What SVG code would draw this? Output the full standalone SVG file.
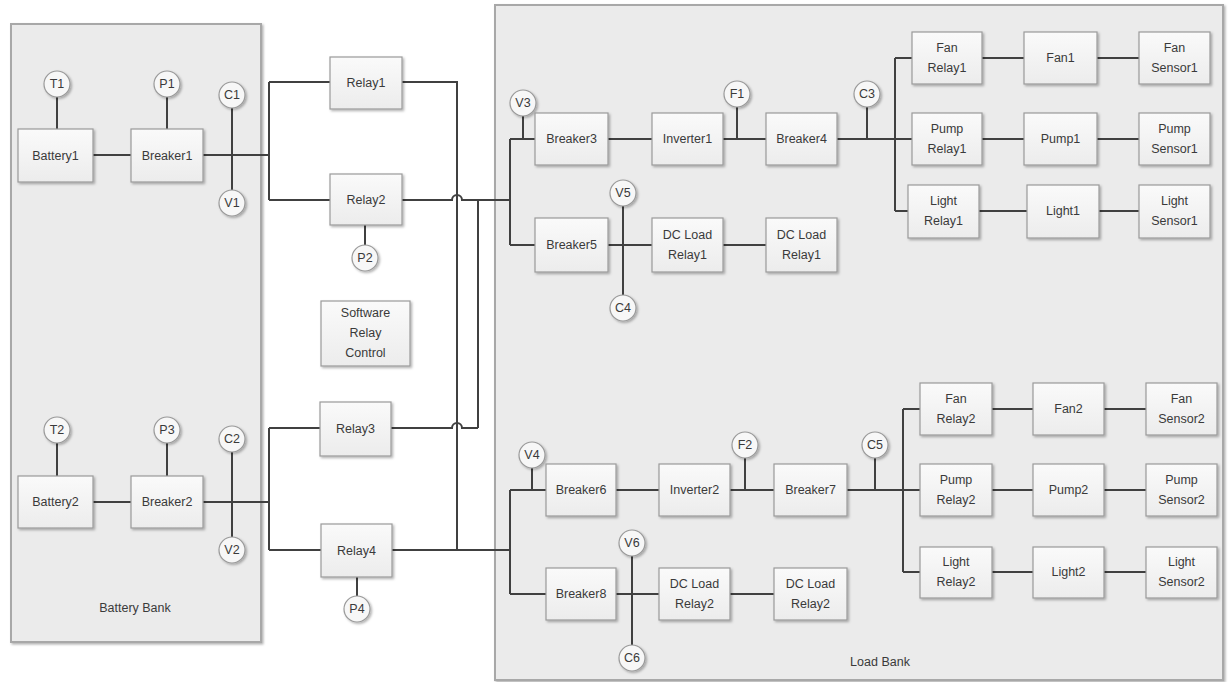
<svg xmlns="http://www.w3.org/2000/svg" width="1228" height="682" viewBox="0 0 1228 682">
<defs>
<linearGradient id="boxg" x1="0" y1="0" x2="0" y2="1">
<stop offset="0" stop-color="#fafafa"/>
<stop offset="1" stop-color="#ececec"/>
</linearGradient>
<filter id="sh" x="-20%" y="-20%" width="140%" height="140%">
<feDropShadow dx="1.5" dy="1.5" stdDeviation="1" flood-color="#000" flood-opacity="0.3"/>
</filter>
</defs>
<style>
.bank{fill:#ebebeb;stroke:#a8a8a8;stroke-width:2;filter:url(#sh)}
.box{fill:url(#boxg);stroke:#9a9a9a;stroke-width:1.2;filter:url(#sh)}
.cir{fill:#f7f7f7;stroke:#9a9a9a;stroke-width:1.2;filter:url(#sh)}
.t{font-family:"Liberation Sans",Arial,sans-serif;font-size:12.5px;fill:#3a3a3a;text-anchor:middle;dominant-baseline:central}
.c{stroke:#404040;stroke-width:2;fill:none}
</style>
<rect fill="#ffffff" x="0" y="0" width="1228" height="682"/>
<g id="battery-bank"><rect class="bank" x="11" y="24" width="250" height="618"/><text class="t" x="135" y="608">Battery Bank</text></g>
<g id="load-bank"><rect class="bank" x="495" y="5" width="728" height="675"/><text class="t" x="880" y="662">Load Bank</text></g>
<g id="connectors">
<path class="c" d="M57 97V129M167 97V129M93 155H131M203 155H269M232 108V190M269 82V200M269 82H330M269 200H330"/>
<path class="c" d="M402 82H457V550M402 200H452A5 5 0 0 1 462 200H510M478 200V428M365 225V245"/>
<path class="c" d="M510 139V245M510 139H535M510 245H535M523 116V139M608 139H652M723 139H766M737 107V139M867 107V139M837 139H912"/>
<path class="c" d="M895 58V211M895 58H912M895 211H908M982 58H1024M1097 58H1139M982 139H1024M1097 139H1139M979 211H1027M1099 211H1139"/>
<path class="c" d="M608 245H652M623 206V295M723 245H766"/>
<path class="c" d="M57 443V476M167 443V476M93 502H131M203 502H269M232 452V537M269 428V550M269 428H320M269 550H321"/>
<path class="c" d="M391 428H452A5 5 0 0 1 462 428H478M392 550H510M357 577V596"/>
<path class="c" d="M510 490V594M510 490H546M510 594H546M532 468V490M616 490H659M730 490H774M745 458V490M875 458V490M847 490H920"/>
<path class="c" d="M903 409V572M903 409H920M903 572H920M992 409H1033M1104 409H1146M992 490H1033M1104 490H1146M992 572H1033M1104 572H1146"/>
<path class="c" d="M616 594H659M632 556V645M730 594H774"/>
</g>
<g id="T1"><circle class="cir" cx="57" cy="84" r="13"/><text class="t" x="57" y="84">T1</text></g>
<g id="P1"><circle class="cir" cx="167" cy="84" r="13"/><text class="t" x="167" y="84">P1</text></g>
<g id="C1"><circle class="cir" cx="232" cy="95" r="13"/><text class="t" x="232" y="95">C1</text></g>
<g id="V1"><circle class="cir" cx="232" cy="203" r="13"/><text class="t" x="232" y="203">V1</text></g>
<g id="Battery1"><rect class="box" x="18" y="129" width="75" height="53"/><text class="t" x="55.5" y="155.5">Battery1</text></g>
<g id="Breaker1"><rect class="box" x="131" y="129" width="72" height="53"/><text class="t" x="167" y="155.5">Breaker1</text></g>
<g id="Relay1"><rect class="box" x="330" y="57" width="72" height="52"/><text class="t" x="366" y="83">Relay1</text></g>
<g id="Relay2"><rect class="box" x="330" y="174" width="72" height="51"/><text class="t" x="366" y="200">Relay2</text></g>
<g id="P2"><circle class="cir" cx="365" cy="258" r="13"/><text class="t" x="365" y="258">P2</text></g>
<g id="SoftwareRelayControl"><rect class="box" x="321" y="301" width="89" height="65"/><text class="t" x="365.5" y="313">Software</text><text class="t" x="365.5" y="333">Relay</text><text class="t" x="365.5" y="353">Control</text></g>
<g id="T2"><circle class="cir" cx="57" cy="430" r="13"/><text class="t" x="57" y="430">T2</text></g>
<g id="P3"><circle class="cir" cx="167" cy="430" r="13"/><text class="t" x="167" y="430">P3</text></g>
<g id="C2"><circle class="cir" cx="232" cy="439" r="13"/><text class="t" x="232" y="439">C2</text></g>
<g id="V2"><circle class="cir" cx="232" cy="550" r="13"/><text class="t" x="232" y="550">V2</text></g>
<g id="Battery2"><rect class="box" x="18" y="476" width="75" height="52"/><text class="t" x="55.5" y="502">Battery2</text></g>
<g id="Breaker2"><rect class="box" x="131" y="476" width="72" height="52"/><text class="t" x="167" y="502">Breaker2</text></g>
<g id="Relay3"><rect class="box" x="320" y="402" width="71" height="54"/><text class="t" x="355.5" y="429">Relay3</text></g>
<g id="Relay4"><rect class="box" x="321" y="524" width="71" height="53"/><text class="t" x="356.5" y="550.5">Relay4</text></g>
<g id="P4"><circle class="cir" cx="357" cy="609" r="13"/><text class="t" x="357" y="609">P4</text></g>
<g id="V3"><circle class="cir" cx="523" cy="103" r="13"/><text class="t" x="523" y="103">V3</text></g>
<g id="Breaker3"><rect class="box" x="535" y="113" width="73" height="52"/><text class="t" x="571.5" y="139">Breaker3</text></g>
<g id="Inverter1"><rect class="box" x="652" y="113" width="71" height="52"/><text class="t" x="687.5" y="139">Inverter1</text></g>
<g id="F1"><circle class="cir" cx="737" cy="94" r="13"/><text class="t" x="737" y="94">F1</text></g>
<g id="Breaker4"><rect class="box" x="766" y="113" width="71" height="52"/><text class="t" x="801.5" y="139">Breaker4</text></g>
<g id="C3"><circle class="cir" cx="867" cy="94" r="13"/><text class="t" x="867" y="94">C3</text></g>
<g id="V5"><circle class="cir" cx="623" cy="193" r="13"/><text class="t" x="623" y="193">V5</text></g>
<g id="C4"><circle class="cir" cx="623" cy="308" r="13"/><text class="t" x="623" y="308">C4</text></g>
<g id="Breaker5"><rect class="box" x="535" y="218" width="73" height="54"/><text class="t" x="571.5" y="245">Breaker5</text></g>
<g id="DCLoadRelay1a"><rect class="box" x="652" y="218" width="71" height="54"/><text class="t" x="687.5" y="235">DC Load</text><text class="t" x="687.5" y="255">Relay1</text></g>
<g id="DCLoadRelay1b"><rect class="box" x="766" y="218" width="71" height="54"/><text class="t" x="801.5" y="235">DC Load</text><text class="t" x="801.5" y="255">Relay1</text></g>
<g id="FanRelay1"><rect class="box" x="912" y="32" width="70" height="52"/><text class="t" x="947" y="48">Fan</text><text class="t" x="947" y="68">Relay1</text></g>
<g id="Fan1"><rect class="box" x="1024" y="32" width="73" height="52"/><text class="t" x="1060.5" y="58">Fan1</text></g>
<g id="FanSensor1"><rect class="box" x="1139" y="32" width="71" height="52"/><text class="t" x="1174.5" y="48">Fan</text><text class="t" x="1174.5" y="68">Sensor1</text></g>
<g id="PumpRelay1"><rect class="box" x="912" y="113" width="70" height="52"/><text class="t" x="947" y="129">Pump</text><text class="t" x="947" y="149">Relay1</text></g>
<g id="Pump1"><rect class="box" x="1024" y="113" width="73" height="52"/><text class="t" x="1060.5" y="139">Pump1</text></g>
<g id="PumpSensor1"><rect class="box" x="1139" y="113" width="71" height="52"/><text class="t" x="1174.5" y="129">Pump</text><text class="t" x="1174.5" y="149">Sensor1</text></g>
<g id="LightRelay1"><rect class="box" x="908" y="185" width="71" height="53"/><text class="t" x="943.5" y="201">Light</text><text class="t" x="943.5" y="221">Relay1</text></g>
<g id="Light1"><rect class="box" x="1027" y="185" width="72" height="53"/><text class="t" x="1063" y="211">Light1</text></g>
<g id="LightSensor1"><rect class="box" x="1139" y="185" width="71" height="53"/><text class="t" x="1174.5" y="201">Light</text><text class="t" x="1174.5" y="221">Sensor1</text></g>
<g id="V4"><circle class="cir" cx="532" cy="455" r="13"/><text class="t" x="532" y="455">V4</text></g>
<g id="Breaker6"><rect class="box" x="546" y="464" width="70" height="52"/><text class="t" x="581" y="490">Breaker6</text></g>
<g id="Inverter2"><rect class="box" x="659" y="464" width="71" height="52"/><text class="t" x="694.5" y="490">Inverter2</text></g>
<g id="F2"><circle class="cir" cx="745" cy="445" r="13"/><text class="t" x="745" y="445">F2</text></g>
<g id="Breaker7"><rect class="box" x="774" y="464" width="73" height="52"/><text class="t" x="810.5" y="490">Breaker7</text></g>
<g id="C5"><circle class="cir" cx="875" cy="445" r="13"/><text class="t" x="875" y="445">C5</text></g>
<g id="V6"><circle class="cir" cx="632" cy="543" r="13"/><text class="t" x="632" y="543">V6</text></g>
<g id="C6"><circle class="cir" cx="632" cy="658" r="13"/><text class="t" x="632" y="658">C6</text></g>
<g id="Breaker8"><rect class="box" x="546" y="568" width="70" height="52"/><text class="t" x="581" y="594">Breaker8</text></g>
<g id="DCLoadRelay2a"><rect class="box" x="659" y="568" width="71" height="52"/><text class="t" x="694.5" y="584">DC Load</text><text class="t" x="694.5" y="604">Relay2</text></g>
<g id="DCLoadRelay2b"><rect class="box" x="774" y="568" width="73" height="52"/><text class="t" x="810.5" y="584">DC Load</text><text class="t" x="810.5" y="604">Relay2</text></g>
<g id="FanRelay2"><rect class="box" x="920" y="383" width="72" height="52"/><text class="t" x="956" y="399">Fan</text><text class="t" x="956" y="419">Relay2</text></g>
<g id="Fan2"><rect class="box" x="1033" y="383" width="71" height="52"/><text class="t" x="1068.5" y="409">Fan2</text></g>
<g id="FanSensor2"><rect class="box" x="1146" y="383" width="71" height="52"/><text class="t" x="1181.5" y="399">Fan</text><text class="t" x="1181.5" y="419">Sensor2</text></g>
<g id="PumpRelay2"><rect class="box" x="920" y="464" width="72" height="52"/><text class="t" x="956" y="480">Pump</text><text class="t" x="956" y="500">Relay2</text></g>
<g id="Pump2"><rect class="box" x="1033" y="464" width="71" height="52"/><text class="t" x="1068.5" y="490">Pump2</text></g>
<g id="PumpSensor2"><rect class="box" x="1146" y="464" width="71" height="52"/><text class="t" x="1181.5" y="480">Pump</text><text class="t" x="1181.5" y="500">Sensor2</text></g>
<g id="LightRelay2"><rect class="box" x="920" y="547" width="72" height="51"/><text class="t" x="956" y="562">Light</text><text class="t" x="956" y="582">Relay2</text></g>
<g id="Light2"><rect class="box" x="1033" y="547" width="71" height="51"/><text class="t" x="1068.5" y="572">Light2</text></g>
<g id="LightSensor2"><rect class="box" x="1146" y="547" width="71" height="51"/><text class="t" x="1181.5" y="562">Light</text><text class="t" x="1181.5" y="582">Sensor2</text></g>
</svg>
